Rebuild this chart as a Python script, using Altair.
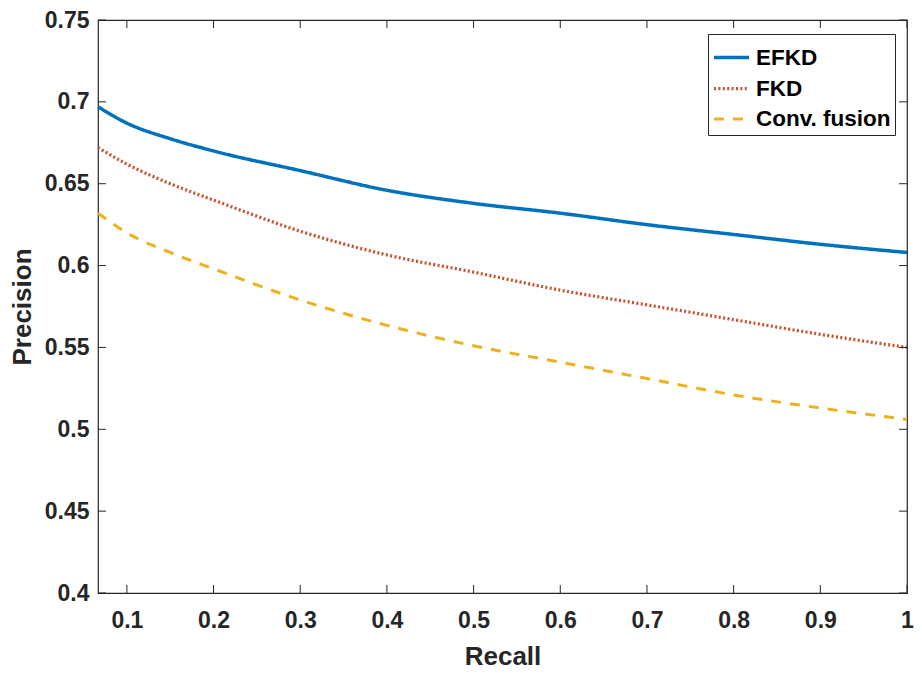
import altair as alt
import pandas as pd

# ---- data ----
recall = [0.0667, 0.1, 0.15, 0.2, 0.3, 0.4, 0.5, 0.6, 0.7, 0.8, 0.9, 1.0]
efkd = [0.697, 0.687, 0.6775, 0.670, 0.658, 0.646, 0.638, 0.632, 0.625, 0.619, 0.613, 0.608]
fkd = [0.672, 0.662, 0.650, 0.640, 0.621, 0.6065, 0.596, 0.585, 0.576, 0.567, 0.558, 0.550]
conv = [0.632, 0.620, 0.608, 0.598, 0.579, 0.5635, 0.551, 0.541, 0.531, 0.521, 0.513, 0.506]

series_names = ["EFKD", "FKD", "Conv. fusion"]
series_colors = ["#0072BD", "#C8502A", "#EDB120"]
series_dash = [[1, 0], [2, 2.4], [10, 9]]
series_width = [3.5, 3.0, 3.5]

x_ticks = [0.1, 0.2, 0.3, 0.4, 0.5, 0.6, 0.7, 0.8, 0.9, 1.0]
y_ticks = [0.4, 0.45, 0.5, 0.55, 0.6, 0.65, 0.7, 0.75]

x_domain = [0.0667, 1.0]
y_domain = [0.4, 0.75]

W, H = 809, 573

rows = []
for name, vals in zip(series_names, [efkd, fkd, conv]):
    for r, p in zip(recall, vals):
        rows.append({"Recall": r, "Precision": p, "Series": name})
df = pd.DataFrame(rows)

xs = alt.Scale(domain=x_domain, nice=False, zero=False)
ys = alt.Scale(domain=y_domain, nice=False, zero=False)

leg = alt.Legend(title=None, orient="none", legendX=610, legendY=14)

lines = alt.Chart(df).mark_line(interpolate="monotone", strokeCap="butt").encode(
    x=alt.X("Recall:Q", scale=xs,
            axis=alt.Axis(values=x_ticks, format="~g", title="Recall",
                          labelPadding=16, titlePadding=11)),
    y=alt.Y("Precision:Q", scale=ys,
            axis=alt.Axis(values=y_ticks, format="~g", title="Precision",
                          labelPadding=9, titlePadding=9)),
    color=alt.Color("Series:N",
                    scale=alt.Scale(domain=series_names, range=series_colors),
                    legend=leg),
    strokeDash=alt.StrokeDash("Series:N",
                              scale=alt.Scale(domain=series_names, range=series_dash),
                              legend=leg),
    strokeWidth=alt.StrokeWidth("Series:N",
                                scale=alt.Scale(domain=series_names, range=series_width),
                                legend=None),
    order=alt.Order("Recall:Q"),
)

xt = pd.DataFrame({"t": x_ticks})
yt = pd.DataFrame({"t": y_ticks})
tick_color = "#262626"

xb = alt.Chart(xt).mark_rule(color=tick_color, strokeWidth=1).encode(
    x=alt.X("t:Q", scale=xs), y=alt.value(H), y2=alt.value(H - 8))
xtop = alt.Chart(xt).mark_rule(color=tick_color, strokeWidth=1).encode(
    x=alt.X("t:Q", scale=xs), y=alt.value(0), y2=alt.value(8))
yl = alt.Chart(yt).mark_rule(color=tick_color, strokeWidth=1).encode(
    y=alt.Y("t:Q", scale=ys), x=alt.value(0), x2=alt.value(8))
yr = alt.Chart(yt).mark_rule(color=tick_color, strokeWidth=1).encode(
    y=alt.Y("t:Q", scale=ys), x=alt.value(W), x2=alt.value(W - 8))

chart = alt.layer(lines, xb, xtop, yl, yr).properties(
    width=W, height=H,
    autosize="none",
    padding={"left": 90, "top": 12, "right": 7, "bottom": 80},
    background="white",
).configure_view(
    stroke="#262626", strokeWidth=1.2,
).configure_axis(
    grid=False, ticks=False, tickSize=0, domain=False,
    labelFont="Liberation Sans", labelFontSize=23, labelFontWeight="bold",
    labelColor="#262626", labelFlush=False, labelOverlap=False,
    titleFont="Liberation Sans", titleFontSize=26, titleFontWeight="bold",
    titleColor="#262626",
).configure_legend(
    labelFont="Liberation Sans", labelFontSize=22.5, labelFontWeight="bold",
    labelColor="#000000",
    symbolType="stroke", symbolSize=1225, symbolStrokeWidth=3.5,
    strokeColor="#262626", fillColor="white", padding=4,
    labelOffset=5, rowPadding=-12, cornerRadius=0,
)

chart.save("out.html", embed_options={"renderer": "svg", "actions": False})
